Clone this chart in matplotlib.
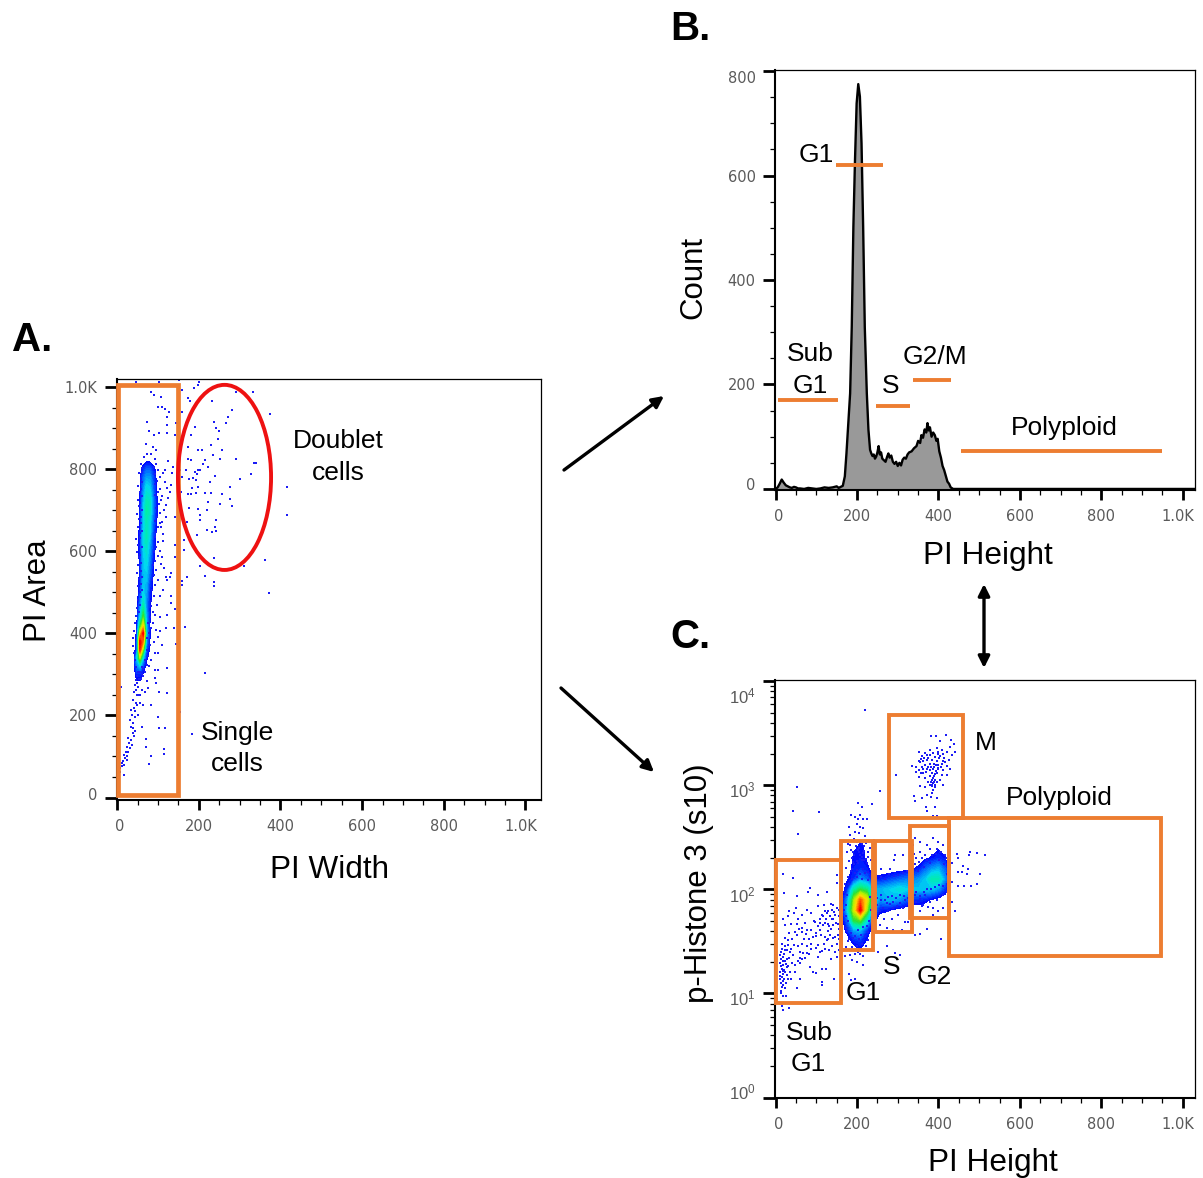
import numpy as np
import matplotlib
matplotlib.use('Agg')
import matplotlib.pyplot as plt
from matplotlib.colors import LinearSegmentedColormap, Normalize
from matplotlib.patches import Rectangle, Ellipse, FancyArrowPatch
from matplotlib.ticker import MultipleLocator, LogLocator, NullFormatter
from matplotlib.transforms import ScaledTranslation

W, H = 1203, 1178
ORANGE = '#ED7D31'
DOT = '#1c1cf5'
DOT_SIZE = 4.6
TICK_TEXT = '#5a5a5a'

plt.rcParams['font.family'] = ['Liberation Sans', 'DejaVu Sans']

# ---- Panel A: density (0 = empty, 10 = red peak)
a_grid_x = [40, 48, 56, 64, 72, 80, 88, 96, 104, 112]
a_grid_y = [840, 820, 800, 780, 760, 740, 720, 700, 680, 660, 640, 620, 600, 580, 560,
            540, 520, 500, 480, 460, 440, 420, 400, 380, 360, 340, 320, 300, 280, 260]
a_density = [
    [0, 0, 0, 0, .6, .6, 0, 0, 0, 0],
    [0, 0, 0, .8, 1, 1, .8, 0, 0, 0],
    [0, 0, .7, 1.4, 2, 2, 1.4, .9, 0, 0],
    [0, 0, 1, 2, 2.6, 2.6, 1.8, 1, .6, 0],
    [0, 0, 1, 2.2, 3.2, 3, 2, 1.2, .6, 0],
    [0, 0, 1.1, 2.5, 3.6, 3.4, 2.2, 1.2, .6, 0],
    [0, .6, 1.2, 2.8, 4, 3.8, 2.4, 1.3, .7, 0],
    [0, .6, 1.3, 3, 4.2, 3.8, 2.4, 1.3, .7, 0],
    [0, .6, 1.3, 3, 4, 3.4, 2.2, 1.2, .6, 0],
    [0, .6, 1.2, 3, 3.8, 3.2, 2, 1.1, .6, 0],
    [0, .7, 1.4, 3.2, 4, 3.2, 1.8, 1, 0, 0],
    [0, .7, 1.4, 3.2, 3.8, 2.8, 1.6, .9, 0, 0],
    [0, .7, 1.4, 3, 3.6, 2.6, 1.5, .8, 0, 0],
    [0, .6, 1.3, 3, 3.4, 2.4, 1.3, .7, 0, 0],
    [0, .6, 1.3, 3, 3.2, 2.2, 1.2, .7, 0, 0],
    [0, .6, 1.3, 2.8, 3, 2, 1.1, .6, 0, 0],
    [0, .6, 1.4, 3, 2.8, 1.6, 1, .6, 0, 0],
    [0, .6, 1.6, 3.2, 2.6, 1.4, .9, 0, 0, 0],
    [0, .7, 2, 3.6, 2.4, 1.3, .8, 0, 0, 0],
    [0, .7, 2.4, 4.4, 2.4, 1.2, .7, 0, 0, 0],
    [0, .8, 3, 5.4, 2.6, 1.2, .7, 0, 0, 0],
    [0, 1, 4.6, 7, 2.8, 1.1, .7, 0, 0, 0],
    [.6, 1.2, 7, 9.5, 3, 1.2, .7, 0, 0, 0],
    [.6, 1.5, 9.5, 8, 2.4, 1.1, .7, 0, 0, 0],
    [.6, 1.6, 9, 5.5, 1.8, 1, .6, 0, 0, 0],
    [.7, 3, 6, 3, 1.2, .8, 0, 0, 0, 0],
    [.7, 2.2, 3, 1.6, .9, .6, 0, 0, 0, 0],
    [.7, 1.4, 1.4, 1, .7, 0, 0, 0, 0, 0],
    [.6, 1, 1, .7, 0, 0, 0, 0, 0, 0],
    [0, .6, .6, 0, 0, 0, 0, 0, 0, 0],
]

# single dots of panel A, (PI width, PI area)
a_doublets = [
    (46, 1013), (102, 1013), (152, 1017), (201, 1013), (199, 1005), (82, 989), (91, 981), (107, 977),
    (159, 993), (189, 997), (174, 973), (178, 965), (233, 965), (290, 989), (333, 989), (99, 952),
    (111, 952), (117, 946), (127, 940), (159, 940), (123, 928), (282, 944), (272, 928), (375, 934),
    (74, 916), (145, 913), (121, 908), (190, 904), (237, 916), (266, 912), (241, 900), (77, 892),
    (91, 884), (102, 888), (123, 888), (141, 884), (182, 884), (250, 892), (247, 873), (231, 860),
    (174, 855), (199, 847), (207, 847), (257, 847), (234, 835), (174, 826), (180, 822), (214, 822),
    (252, 826), (290, 824), (335, 816), (340, 816), (210, 812), (154, 798), (168, 798), (199, 798),
    (190, 794), (239, 784), (327, 788), (186, 778), (192, 774), (301, 776), (137, 805), (135, 790),
    (199, 757), (183, 753), (156, 745), (277, 756), (415, 756), (174, 740), (180, 740), (194, 741),
    (215, 743), (229, 743), (257, 740), (223, 721), (276, 728), (252, 715), (281, 711), (177, 705),
    (199, 703), (221, 701), (203, 689), (415, 688), (170, 672), (241, 676), (203, 676), (239, 660),
    (221, 652), (233, 648), (241, 650), (196, 640), (163, 628), (164, 603), (141, 587), (238, 583),
    (363, 579), (204, 563), (310, 563), (172, 538), (216, 540), (159, 528), (238, 524), (238, 516),
    (158, 518), (371, 499), (203, 798), (196, 788), (176, 775), (222, 805), (160, 780), (228, 770),
]
a_right_of_core = [
    (117, 798), (125, 821), (96, 847), (88, 855), (70, 861), (121, 753), (129, 745), (125, 729),
    (119, 713), (133, 762), (141, 684), (119, 684), (109, 672), (113, 642), (141, 615), (111, 587),
    (114, 559), (119, 538), (129, 538), (133, 548), (121, 530), (113, 506), (133, 490), (105, 490),
    (133, 475), (141, 459), (121, 445), (105, 441), (119, 412), (139, 412), (96, 408), (100, 392),
    (143, 374), (109, 372), (92, 352), (100, 353), (92, 311), (100, 311), (123, 315), (92, 291),
    (96, 279), (216, 303), (167, 415), (103, 258), (123, 254), (9, 270), (76, 266), (68, 258),
    (56, 250), (46, 262), (155, 209), (83, 226), (64, 226), (99, 197), (103, 169), (118, 169),
    (184, 154), (70, 142), (70, 122), (114, 118), (114, 106), (82, 102), (78, 81), (112, 790),
    (118, 770), (110, 735), (115, 700), (108, 660), (112, 625), (104, 600), (108, 570), (100, 530),
    (98, 470), (94, 445), (88, 425), (106, 405), (90, 380), (84, 335), (78, 320),
]
a_core_rim = [
    (58, 812), (66, 830), (74, 838), (84, 836), (92, 826), (62, 802), (54, 790), (58, 775), (52, 760),
    (56, 745), (50, 725), (54, 710), (48, 692), (53, 678), (50, 660), (55, 645), (47, 630), (52, 615),
    (49, 598), (54, 585), (50, 566), (48, 548), (53, 532), (50, 515), (55, 500), (52, 482), (49, 462),
    (46, 442), (44, 425), (42, 405), (40, 388), (38, 370), (42, 352), (44, 335), (46, 318), (60, 792),
    (61, 768), (58, 752), (60, 735), (57, 718), (60, 700), (58, 684), (59, 668), (60, 650), (57, 632),
    (60, 610), (57, 590), (59, 572), (58, 552), (60, 538), (58, 520), (60, 505), (58, 488), (56, 470),
    (54, 452), (96, 812), (100, 798), (90, 806), (94, 788), (104, 780), (98, 772), (92, 765), (106, 752),
    (100, 745), (94, 738), (108, 725), (102, 716), (96, 706), (104, 694), (98, 684), (92, 674), (106, 668),
    (100, 658), (96, 646), (92, 635), (101, 622), (95, 610), (90, 598), (100, 588), (94, 576), (88, 566),
    (96, 554), (90, 542), (85, 530), (92, 518), (86, 506), (90, 492), (84, 480), (82, 466), (88, 452),
    (80, 440), (76, 426), (84, 414), (78, 400), (74, 388), (80, 372), (72, 360), (76, 345), (68, 336),
    (72, 322), (64, 312), (60, 300), (54, 290), (48, 278),
]
a_low_tail = [
    (7, 63), (8, 71), (12, 76), (16, 55), (15, 88), (19, 96), (23, 92), (17, 80), (27, 112), (23, 124),
    (31, 120), (35, 140), (41, 149), (27, 145), (38, 157), (43, 161), (33, 173), (39, 181), (60, 173),
    (31, 189), (43, 197), (51, 201), (35, 214), (41, 218), (46, 230), (49, 226), (56, 230), (39, 238),
    (41, 258), (51, 250), (60, 262), (46, 287), (49, 295), (56, 307), (49, 279), (64, 295), (74, 283),
    (68, 307), (60, 319), (13, 84), (18, 104), (21, 110), (25, 100), (29, 132), (36, 128), (40, 170),
    (36, 200), (44, 210), (48, 250), (52, 270), (44, 275), (50, 305), (58, 290),
]

# ---- Panel B: histogram outline
b_height = [0, 5, 10, 15, 20, 25, 30, 35, 40, 45, 50, 55, 60, 70, 80, 90, 100, 110, 120, 130, 140, 150,
            155, 160, 165, 170, 174, 183, 187, 191, 195, 199, 203, 207, 211, 215, 219, 224, 228, 232,
            235, 238, 241, 244, 247, 250, 253, 256, 259, 262, 266, 270, 274, 277, 280, 284, 288, 292,
            296, 300, 304, 308, 312, 316, 320, 324, 328, 334, 340, 346, 350, 355, 358, 362, 366, 370,
            373, 376, 379, 383, 387, 391, 395, 398, 402, 406, 410, 414, 418, 422, 426, 430, 436, 453, 1030]
b_count = [0, 3, 10, 18, 12, 7, 5, 3, 2, 4, 3, 1, 1, 0, 2, 1, 0, 1, 3, 2, 3, 5,
           2, 4, 6, 24, 68, 183, 310, 502, 630, 738, 775, 751, 662, 502, 310, 183, 113, 75,
           68, 63, 66, 58, 62, 70, 82, 66, 70, 58, 55, 52, 62, 68, 60, 64, 52, 48,
           52, 44, 50, 45, 56, 60, 58, 66, 70, 72, 78, 82, 92, 88, 103, 98, 114, 108,
           126, 112, 118, 100, 108, 103, 92, 96, 72, 60, 44, 36, 25, 14, 10, 3, 0, 0, 0]

# gates in panel B: start, end, level
b_bar_start = [148, 5, 246, 337, 455]
b_bar_end = [264, 153, 330, 431, 949]
b_bar_level = [620, 170, 159, 209, 73]

# ---- Panel C: density on PI height / log10(p-Histone 3)
c_grid_x = [160, 176, 192, 208, 224, 240, 256, 272, 288, 304, 320, 336, 352, 368, 384, 400, 416, 432]
c_grid_log = [2.5, 2.4, 2.3, 2.2, 2.1, 2.0, 1.9, 1.8, 1.7, 1.6, 1.5, 1.4]
c_density = [
    [0, 0, .7, 1, .7, 0, 0, 0, 0, 0, 0, 0, 0, 0, 0, 0, 0, 0],
    [0, .6, 1, 1.2, 1, 0, 0, 0, 0, 0, 0, 0, 0, 0, .7, 1, .7, 0],
    [0, .7, 1.2, 1.3, 1, .6, 0, 0, 0, 0, 0, 0, .6, 1, 1.2, 1.5, 1.2, 0],
    [0, .7, 1.3, 1.5, 1.3, .7, .7, .6, .6, .7, .8, 1, 1.3, 2, 2.5, 2.8, 2, 0],
    [0, 1, 1.5, 2.5, 2, 1.3, 1.3, 1.5, 1.8, 2, 2.2, 2.2, 2.5, 3, 4, 4, 2.5, .7],
    [.6, 1.5, 4, 5, 4.5, 3, 2.8, 3, 3.2, 3.5, 3.2, 3, 3, 3, 3, 2.5, 1.5, .6],
    [.7, 2.5, 6, 8.5, 7, 3.5, 2.5, 2.8, 2.8, 2.5, 2, 1.5, 1.5, 1.3, 1, .8, .7, 0],
    [.7, 3, 6.5, 9.5, 6, 2.5, 1.3, 1.2, 1, .8, .7, .7, .7, .6, 0, 0, 0, 0],
    [.6, 2, 5, 5.5, 3.5, 1.3, .7, .6, .6, 0, 0, 0, 0, 0, 0, 0, 0, 0],
    [.6, 1.3, 2.5, 2.8, 1.5, .7, 0, 0, 0, 0, 0, 0, 0, 0, 0, 0, 0, 0],
    [0, .7, 1.3, 1.5, 1, .6, 0, 0, 0, 0, 0, 0, 0, 0, 0, 0, 0, 0],
    [0, 0, .7, 1, .7, 0, 0, 0, 0, 0, 0, 0, 0, 0, 0, 0, 0, 0],
]

# single dots of panel C, (PI height, log10 p-Histone 3)
c_sub_g1 = [
    (17, 2.15), (42, 2.11), (21, 1.97), (84, 2.01), (80, 1.98), (127, 1.98), (150, 2.14), (150, 2.06),
    (53, 1.94), (105, 1.95), (34, 1.79), (50, 1.82), (78, 1.80), (103, 1.84), (121, 1.79), (129, 1.79),
    (138, 1.80), (150, 1.82), (19, 1.72), (31, 1.74), (45, 1.77), (64, 1.75), (88, 1.77), (113, 1.75),
    (124, 1.72), (133, 1.74), (146, 1.75), (23, 1.66), (39, 1.67), (52, 1.67), (72, 1.68), (97, 1.69),
    (117, 1.66), (129, 1.67), (142, 1.66), (152, 1.67), (34, 1.58), (47, 1.59), (64, 1.59), (76, 1.61),
    (88, 1.61), (109, 1.61), (121, 1.54), (133, 1.56), (146, 1.54), (152, 1.56), (23, 1.53), (31, 1.51),
    (15, 1.48), (23, 1.46), (56, 1.46), (64, 1.48), (76, 1.46), (88, 1.48), (125, 1.51), (138, 1.46),
    (150, 1.48), (15, 1.43), (27, 1.42), (39, 1.43), (60, 1.40), (83, 1.38), (105, 1.35), (121, 1.43),
    (146, 1.40), (11, 1.37), (19, 1.35), (43, 1.37), (60, 1.34), (72, 1.34), (11, 1.29), (19, 1.27),
    (25, 1.28), (15, 1.24), (21, 1.23), (31, 1.26), (47, 1.27), (60, 1.29), (12, 1.21), (19, 1.19),
    (27, 1.18), (35, 1.21), (47, 1.21), (93, 1.21), (113, 1.24), (124, 1.24), (11, 1.14), (20, 1.14),
    (31, 1.14), (115, 1.11), (115, 1.08), (143, 1.14), (15, 1.06), (53, 1.05), (13, 1.0), (19, .98),
    (25, .98), (4, .95), (19, .84), (34, .86), (15, .88), (13, 1.33), (17, 1.31), (14, 1.26), (17, 1.22),
    (12, 1.17), (16, 1.16), (22, 1.31), (24, 1.21), (14, 1.10), (18, 1.08), (22, 1.05), (28, 1.33),
    (95, 1.70), (108, 1.68), (112, 1.56), (128, 1.60), (136, 1.62), (140, 1.53), (98, 1.55), (70, 1.52),
    (55, 1.72), (40, 1.52), (68, 1.39), (105, 1.47), (115, 1.41), (130, 1.42), (142, 1.72), (155, 1.62),
    (155, 1.74), (118, 1.85), (136, 1.86), (142, 1.85), (14, 1.40), (20, 1.38), (24, 1.42), (30, 1.47),
    (36, 1.40), (44, 1.47), (52, 1.56), (58, 1.62), (66, 1.63), (74, 1.57), (82, 1.52), (92, 1.54),
    (100, 1.58), (104, 1.65), (110, 1.72), (116, 1.74), (122, 1.68), (126, 1.77), (132, 1.65), (138, 1.72),
    (144, 1.78), (148, 1.68), (156, 1.80), (156, 1.52), (128, 1.52), (118, 1.48), (108, 1.40), (100, 1.44),
    (86, 1.43), (76, 1.39), (66, 1.33), (54, 1.31), (40, 1.29), (34, 1.34), (28, 1.25), (18, 1.12),
    (26, 1.10), (14, 1.02), (38, 1.14), (60, 1.14), (84, 1.25), (100, 1.20), (136, 1.33), (150, 1.35),
    (156, 1.42),
]
c_g1_spread = [
    (219, 3.72), (53, 2.98), (42, 2.75), (54, 2.53), (106, 2.74), (256, 2.95), (236, 2.82), (203, 2.83),
    (211, 2.79), (184, 2.72), (207, 2.72), (195, 2.70), (203, 2.68), (215, 2.68), (224, 2.68), (181, 2.60),
    (199, 2.63), (207, 2.60), (215, 2.59), (183, 2.52), (195, 2.55), (205, 2.54), (219, 2.51), (183, 2.43),
    (199, 2.46), (211, 2.44), (191, 2.36), (203, 2.38), (215, 2.35), (228, 2.31), (187, 2.30), (199, 2.27),
    (211, 2.28), (224, 2.25), (187, 2.20), (199, 2.19), (215, 2.20), (228, 2.17), (179, 1.50), (191, 1.53),
    (199, 1.46), (187, 1.45), (174, 1.63), (203, 1.61), (215, 1.64), (228, 1.59), (228, 1.51), (187, 1.32),
    (199, 1.30), (215, 1.27), (181, 1.19), (195, 1.14), (184, 1.13), (252, 1.40), (293, 1.39), (305, 1.37),
    (273, 1.46), (192, 2.48), (205, 2.40), (218, 2.42), (186, 2.38), (208, 2.33), (193, 2.24), (218, 2.28),
    (176, 1.42), (208, 1.38), (222, 1.42), (196, 1.38), (178, 2.44), (188, 2.47), (197, 2.42), (209, 2.47),
    (222, 2.45), (232, 2.40), (176, 2.36), (193, 2.33), (205, 2.36), (217, 2.37), (228, 2.36), (181, 2.27),
    (190, 2.26), (203, 2.25), (213, 2.31), (222, 2.29), (234, 2.28), (172, 2.21), (184, 2.18), (194, 2.16),
    (207, 2.15), (219, 2.16), (231, 2.13), (178, 2.12), (188, 2.10), (200, 2.12), (212, 2.10), (226, 2.09),
    (236, 2.07), (170, 2.05), (180, 2.05), (236, 2.02), (168, 1.98), (175, 1.95), (166, 1.90), (172, 1.85),
    (168, 1.80), (172, 1.74), (178, 1.70), (232, 1.93), (238, 1.86), (234, 1.80), (238, 1.74), (230, 1.70),
    (225, 1.65), (176, 1.60), (185, 1.58), (195, 1.55), (210, 1.56), (220, 1.55), (180, 1.52), (205, 1.52),
    (213, 1.48), (172, 1.45), (222, 1.46), (193, 1.42), (203, 1.40), (214, 1.36), (183, 1.37), (170, 1.36),
]
c_s_g2 = [
    (293, 2.33), (314, 2.33), (291, 2.28), (260, 2.20), (281, 2.20), (260, 1.90), (273, 1.87), (289, 1.88),
    (305, 1.87), (318, 1.90), (256, 1.79), (265, 1.72), (277, 1.79), (289, 1.82), (285, 1.72), (301, 1.75),
    (318, 1.69), (256, 1.66), (273, 1.63), (289, 1.61), (310, 1.61), (326, 1.69), (342, 2.49), (338, 2.43),
    (355, 2.46), (371, 2.43), (387, 2.49), (400, 2.46), (396, 2.39), (412, 2.43), (355, 2.36), (367, 2.33),
    (379, 2.39), (404, 2.36), (416, 2.33), (346, 2.30), (342, 1.95), (355, 1.91), (367, 1.95), (379, 1.88),
    (363, 1.85), (396, 1.90), (412, 1.95), (420, 1.98), (375, 1.83), (387, 1.82), (400, 1.79), (355, 1.79),
    (412, 1.82), (387, 1.75), (373, 1.62), (355, 1.57), (342, 1.56), (405, 1.52), (441, 1.79), (446, 2.34),
    (449, 2.30), (477, 2.36), (494, 2.35), (514, 2.33), (476, 2.33), (461, 2.23), (449, 2.17), (457, 2.17),
    (473, 2.20), (469, 2.15), (502, 2.15), (432, 2.25), (432, 2.07), (449, 2.03), (463, 2.03), (479, 2.03),
    (494, 2.05), (432, 1.88), (246, 2.14), (258, 2.12), (268, 2.10), (278, 2.15), (290, 2.13), (300, 2.14),
    (312, 2.16), (322, 2.18), (332, 2.20), (342, 2.24), (352, 2.26), (360, 2.30), (372, 2.28), (384, 2.33),
    (394, 2.34), (406, 2.36), (418, 2.30), (424, 2.25), (340, 2.34), (350, 2.18), (364, 2.22), (378, 2.25),
    (402, 2.28), (414, 2.24), (420, 2.15), (424, 2.08), (426, 2.00), (246, 1.97), (250, 1.92), (260, 1.95),
    (268, 1.90), (276, 1.93), (286, 1.94), (296, 1.92), (306, 1.95), (316, 1.94), (326, 1.92), (334, 1.96),
    (346, 1.98), (354, 1.94), (364, 1.98), (372, 2.0), (382, 2.0), (392, 2.02), (402, 2.04), (412, 2.03),
    (420, 2.05), (250, 1.85), (264, 1.82), (280, 1.86), (298, 1.84), (312, 1.82), (330, 1.85), (345, 1.88),
    (360, 1.84),
]
c_mitotic = [
    (296, 3.10), (340, 2.90), (342, 2.85), (359, 2.88), (371, 2.91), (381, 2.89), (396, 2.88), (369, 2.79),
    (392, 2.79), (372, 2.75), (387, 2.71), (396, 2.71), (355, 2.99), (367, 2.98), (381, 3.47), (393, 3.47),
    (418, 3.48), (404, 3.43), (430, 3.44), (437, 3.40), (428, 3.37), (441, 3.32), (379, 3.34), (396, 3.36),
    (408, 3.34), (351, 3.32), (367, 3.31), (387, 3.31), (420, 3.32), (432, 3.29), (359, 3.28), (375, 3.26),
    (392, 3.27), (404, 3.28), (414, 3.26), (427, 3.24), (351, 3.23), (363, 3.23), (379, 3.21), (396, 3.23),
    (408, 3.21), (420, 3.19), (334, 3.19), (346, 3.18), (359, 3.18), (371, 3.16), (387, 3.16), (400, 3.16),
    (412, 3.15), (428, 3.16), (346, 3.13), (363, 3.12), (383, 3.12), (396, 3.12), (408, 3.10), (420, 3.10),
    (351, 3.08), (367, 3.07), (387, 3.07), (404, 3.05), (375, 3.03), (387, 3.02), (396, 3.03), (412, 3.00),
    (383, 2.99), (392, 2.98), (387, 2.96), (355, 3.22), (368, 3.20), (384, 3.24), (390, 3.18), (395, 3.14),
    (380, 3.15), (358, 3.25), (372, 3.24), (378, 3.29), (400, 3.30), (412, 3.30), (390, 3.09), (385, 3.05),
    (392, 3.00), (382, 3.03), (400, 3.20), (410, 3.23), (375, 3.18), (370, 3.13), (382, 3.18), (388, 3.21),
    (392, 3.11), (398, 3.17), (405, 3.18), (362, 3.16), (352, 3.15), (357, 3.12), (380, 3.09), (385, 3.00),
    (388, 3.03), (378, 3.00), (392, 3.05), (384, 2.93), (402, 3.26), (416, 3.22), (372, 3.29), (365, 3.26),
    (398, 3.32), (394, 3.20),
]

# gates in panel C: x start, x end, y low, y high
c_gate_x0 = [0, 161, 244, 330, 278, 426]
c_gate_x1 = [161, 239, 336, 426, 460, 947]
c_gate_y0 = [8.1, 26, 39, 53, 490, 23.1]
c_gate_y1 = [190, 290, 290, 407, 4710, 490]

x_ticks = [0, 200, 400, 600, 800, 1000]
x_tick_labels = ['0', '200', '400', '600', '800', '1.0K']
y_ticks = [0, 200, 400, 600, 800, 1000]
y_tick_labels_a = ['0', '200', '400', '600', '800', '1.0K']
y_ticks_b = [0, 200, 400, 600, 800]
y_tick_labels_b = ['0', '200', '400', '600', '800']
y_ticks_c = [1, 10, 100, 1000, 10000]

density_cmap = LinearSegmentedColormap.from_list(
    'pseudo', ['#0000ff', '#0070ff', '#00d8f0', '#00f0a0', '#30e030', '#b8f000', '#ffd800', '#ff6a00', '#ff0000'])
density_norm = Normalize(1.1, 9.4)
density_levels = np.arange(1.1, 10.01, 0.2)

fig = plt.figure(figsize=(W / 100, H / 100), dpi=100)


def nudge(text, dx, dy):
    # move a tick label by some pixels
    text.set_transform(text.get_transform() + ScaledTranslation(dx / 100, dy / 100, fig.dpi_scale_trans))


def make_axes(left, top, right, bottom):
    ax = fig.add_axes([left / W, 1 - bottom / H, (right - left) / W, (bottom - top) / H])
    for side in ax.spines.values():
        side.set_linewidth(0.9)
    ax.spines['left'].set_linewidth(1.5)
    ax.spines['bottom'].set_linewidth(1.5)
    ax.set_xticks(x_ticks)
    ax.set_xticklabels(x_tick_labels, family='DejaVu Sans', fontsize=10.5, color=TICK_TEXT)
    ax.xaxis.set_minor_locator(MultipleLocator(50))
    ax.tick_params(axis='x', which='major', length=7, width=2, pad=7)
    ax.tick_params(axis='x', which='minor', length=3.5, width=0.9)
    ax.tick_params(axis='y', which='major', length=9, width=2, pad=5)
    ax.tick_params(axis='y', which='minor', length=3.5, width=0.9)
    return ax


def label(px, py, text, size=19, **kw):
    if kw.get('rotation'):
        px += 2.5
    else:
        py += 2
    fig.text(px / W, 1 - py / H, text, fontsize=size, ha='center', va='center', color='black', **kw)


def dots(ax, points):
    pts = np.array(points, dtype=float)
    ax.scatter(pts[:, 0], pts[:, 1], s=DOT_SIZE, c=DOT, marker='s', linewidths=0, zorder=2)


# Panel A
ax_a = make_axes(116.7, 378.5, 541, 800)
ax_a.set_xlim(-1, 1038)
ax_a.set_ylim(-6, 1021)
ax_a.set_yticks(y_ticks)
ax_a.set_yticklabels(y_tick_labels_a, family='DejaVu Sans', fontsize=10.5, color=TICK_TEXT)
ax_a.yaxis.set_minor_locator(MultipleLocator(50))
ax_a.contourf(a_grid_x, a_grid_y, np.array(a_density), levels=density_levels,
              cmap=density_cmap, norm=density_norm, zorder=1)
dots(ax_a, a_doublets)
dots(ax_a, a_right_of_core)
dots(ax_a, a_core_rim)
dots(ax_a, a_low_tail)
ax_a.add_patch(Rectangle((2, 6), 146, 998, fill=False, edgecolor=ORANGE, linewidth=3.4,
                         clip_on=False, zorder=4, joinstyle='miter'))
ax_a.add_patch(Ellipse((263, 780), 228, 451, fill=False, edgecolor='#ee1111', linewidth=2.8,
                       clip_on=False, zorder=4))
nudge(ax_a.get_yticklabels()[0], 0, 4)

# Panel B
ax_b = make_axes(775, 70, 1195, 490)
ax_b.set_xlim(-1.5, 1030)
ax_b.set_ylim(-2, 802)
ax_b.set_yticks(y_ticks_b)
ax_b.set_yticklabels(y_tick_labels_b, family='DejaVu Sans', fontsize=10.5, color=TICK_TEXT)
ax_b.yaxis.set_minor_locator(MultipleLocator(50))
ax_b.fill_between(b_height, b_count, 0, color='#999999', linewidth=0)
ax_b.plot(b_height, b_count, color='black', linewidth=1.7)
ax_b.hlines(b_bar_level, b_bar_start, b_bar_end, colors=ORANGE, linewidth=2.8, zorder=4)
nudge(ax_b.get_yticklabels()[0], 0, 5)
nudge(ax_b.get_yticklabels()[-1], 0, -6)

# Panel C
ax_c = make_axes(775, 680, 1195, 1098)
ax_c.set_yscale('log')
ax_c.set_xlim(-1.5, 1030)
ax_c.set_ylim(0.99, 10300)
ax_c.set_yticks(y_ticks_c)
ax_c.set_yticklabels([r'$\mathregular{10^{%d}}$' % i for i in range(5)], fontsize=12, color=TICK_TEXT)
ax_c.yaxis.set_minor_locator(LogLocator(base=10, subs=range(2, 10), numticks=12))
ax_c.yaxis.set_minor_formatter(NullFormatter())
ax_c.contourf(c_grid_x, np.power(10.0, c_grid_log), np.array(c_density), levels=density_levels,
              cmap=density_cmap, norm=density_norm, zorder=1)
for group in (c_sub_g1, c_g1_spread, c_s_g2, c_mitotic):
    pts = np.array(group)
    ax_c.scatter(pts[:, 0], np.power(10.0, pts[:, 1]), s=DOT_SIZE, c=DOT, marker='s', linewidths=0, zorder=2)
for x0, x1, y0, y1 in zip(c_gate_x0, c_gate_x1, c_gate_y0, c_gate_y1):
    ax_c.add_patch(Rectangle((x0, y0), x1 - x0, y1 - y0, fill=False, edgecolor=ORANGE, linewidth=2.8,
                             clip_on=False, zorder=4, joinstyle='miter'))
for tick_text, shift in zip(ax_c.get_yticklabels(), [7, -3, -5, -4, -14]):
    nudge(tick_text, 0, shift)

# first and last x tick labels sit inward in the original
for ax in (ax_a, ax_b, ax_c):
    nudge(ax.get_xticklabels()[0], 3, 0)
    nudge(ax.get_xticklabels()[-1], -5, 0)

# Text
label(32, 338, 'A.', size=29, fontweight='bold')
label(690, 27, 'B.', size=29, fontweight='bold')
label(690, 635, 'C.', size=29, fontweight='bold')
label(330, 868, 'PI Width', size=22.7)
label(36, 591, 'PI Area', size=22.5, rotation=90)
label(338, 439, 'Doublet')
label(338, 471, 'cells')
label(237, 731, 'Single')
label(237, 762, 'cells')
label(691, 277, 'Count', size=22.5, rotation=90)
label(988, 554, 'PI Height', size=22.7)
label(816, 153, 'G1')
label(810, 352, 'Sub')
label(810, 384, 'G1')
label(891, 384, 'S')
label(935, 355, 'G2/M')
label(1064, 426, 'Polyploid')
label(696, 883, 'p-Histone 3 (s10)', size=22.5, rotation=90)
label(993, 1161, 'PI Height', size=22.7)
label(986, 741, 'M')
label(1059, 796, 'Polyploid')
label(892, 965, 'S')
label(934, 975, 'G2')
label(863, 991, 'G1')
label(809, 1031, 'Sub')
label(808, 1062, 'G1')

# Arrows between panels
for start, end, style in [((564, 470), (664, 396), '-|>'), ((561, 688), (654, 772), '-|>'),
                          ((984, 584), (984, 668), '<|-|>')]:
    fig.add_artist(FancyArrowPatch(
        (start[0] / W, 1 - start[1] / H), (end[0] / W, 1 - end[1] / H), transform=fig.transFigure,
        arrowstyle=style, mutation_scale=17, color='black', linewidth=2.4, shrinkA=0, shrinkB=0))

fig.savefig('out.png', dpi=100)
